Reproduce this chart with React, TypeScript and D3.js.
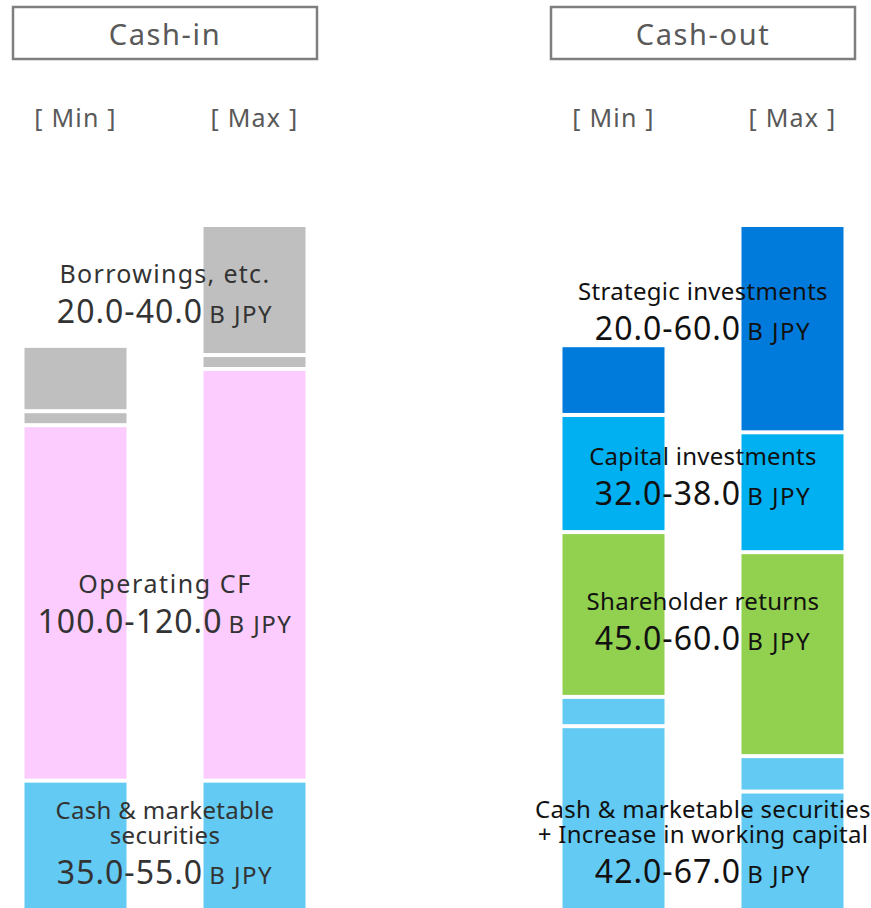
import React from "react";
import * as d3 from "d3";

// ---- data (schematic segment sizes as drawn, roughly in B JPY) ----
const groups = ["Cash-in", "Cash-out"];
const scenarios = ["Min", "Max"];

const cashInKeys = ["cash", "operatingCF", "borrowingsA", "borrowingsB"];
const cashInMin = [37.4, 104.4, 4.1, 18.6];
const cashInMax = [37.4, 120.9, 4.1, 37.6];

const cashOutKeys = ["cashWcA", "cashWcB", "shareholder", "capital", "strategic"];
const cashOutMin = [53.4, 8.6, 48.4, 34.4, 19.9];
const cashOutMax = [34.2, 10.4, 59.9, 35.2, 60.3];

const cashInLabels = [
  { lines: ["Borrowings, etc."], value: "20.0-40.0" },
  { lines: ["Operating CF"], value: "100.0-120.0" },
  { lines: ["Cash & marketable", "securities"], value: "35.0-55.0" },
];
const cashOutLabels = [
  { lines: ["Strategic investments"], value: "20.0-60.0" },
  { lines: ["Capital investments"], value: "32.0-38.0" },
  { lines: ["Shareholder returns"], value: "45.0-60.0" },
  { lines: ["Cash & marketable securities", "+ Increase in working capital"], value: "42.0-67.0" },
];
const unit = "B JPY";

// ---- styles ----
const colors: Record<string, string> = {
  cash: "#62CAF3",
  operatingCF: "#FCCCFE",
  borrowingsA: "#BFBFBF",
  borrowingsB: "#BFBFBF",
  cashWcA: "#62CAF3",
  cashWcB: "#62CAF3",
  shareholder: "#92D050",
  capital: "#00B0F0",
  strategic: "#007BDB",
};

const W = 871;
const H = 908;
const FONT = "'Noto Sans', sans-serif";

export default function App() {
  const y = d3.scaleLinear().domain([0, 200]).range([H, 227]);
  const gx = d3.scalePoint<string>().domain(groups).range([165, 703]);
  const sx = d3.scalePoint<string>().domain(scenarios).range([-89.5, 89.5]);
  const barW = 102;
  const gap = 2;

  const bars = [
    { group: "Cash-in", scen: "Min", keys: cashInKeys, vals: cashInMin },
    { group: "Cash-in", scen: "Max", keys: cashInKeys, vals: cashInMax },
    { group: "Cash-out", scen: "Min", keys: cashOutKeys, vals: cashOutMin },
    { group: "Cash-out", scen: "Max", keys: cashOutKeys, vals: cashOutMax },
  ];

  const rects: any[] = [];
  bars.forEach((b) => {
    const row: any = {};
    b.keys.forEach((k, i) => (row[k] = b.vals[i]));
    const series = d3.stack().keys(b.keys)([row]);
    const cx = (gx(b.group) as number) + (sx(b.scen) as number);
    series.forEach((s, i) => {
      const [y0, y1] = s[0];
      const top = y(y1) + (i === series.length - 1 ? 0 : gap);
      const bot = y(y0) - (i === 0 ? 0 : gap);
      rects.push({
        key: `${b.group}-${b.scen}-${s.key}`,
        x: cx - barW / 2,
        y: top,
        w: barW,
        h: Math.max(0, bot - top),
        fill: colors[s.key as string],
      });
    });
  });

  const inX = gx("Cash-in") as number;
  const outX = gx("Cash-out") as number;

  const inLabelY = [283, 593, 819];
  const outLabelY = [300, 465, 610, 818];
  const inTitleStyle = [
    { fs: 25, ls: 1.3 },
    { fs: 25, ls: 1.6 },
    { fs: 24, ls: 0.3 },
  ];

  const renderLabel = (
    l: any,
    cx: number,
    ty: number,
    color: string,
    k: string,
    fs = 24,
    ls = 0.3
  ) => (
    <g key={k}>
      {l.lines.map((t: string, j: number) => (
        <text
          key={j}
          x={cx}
          y={ty + j * 24.5}
          textAnchor="middle"
          fontSize={fs}
          letterSpacing={ls}
          fill={color}
          fontFamily={FONT}
        >
          {t}
        </text>
      ))}
      <text
        x={cx}
        y={ty + (l.lines.length - 1) * 24.5 + 40}
        textAnchor="middle"
        fill={color}
        fontFamily={FONT}
      >
        <tspan fontSize={32} letterSpacing={1}>
          {l.value}
        </tspan>
        <tspan fontSize={24} letterSpacing={1.5} dx={6}>
          {unit}
        </tspan>
      </text>
    </g>
  );

  return (
    <svg
      width={W}
      height={H}
      style={{ position: "absolute", left: 0, top: 0, background: "#fff" }}
    >
      {rects.map((r) => (
        <rect key={r.key} x={r.x} y={r.y} width={r.w} height={r.h} fill={r.fill} />
      ))}

      {groups.map((g) => (
        <g key={g}>
          <rect
            x={(gx(g) as number) - 152}
            y={7}
            width={304}
            height={52}
            fill="#fff"
            stroke="#7F7F7F"
            strokeWidth={2.5}
          />
          <text
            x={gx(g) as number}
            y={45}
            textAnchor="middle"
            fontSize={29}
            letterSpacing={1.6}
            fill="#595959"
            fontFamily={FONT}
          >
            {g}
          </text>
          {scenarios.map((s) => (
            <text
              key={s}
              x={(gx(g) as number) + (sx(s) as number)}
              y={127}
              textAnchor="middle"
              fontSize={25}
              letterSpacing={1.2}
              fill="#595959"
              fontFamily={FONT}
            >
              {`[ ${s} ]`}
            </text>
          ))}
        </g>
      ))}

      {cashInLabels.map((l, i) =>
        renderLabel(l, inX, inLabelY[i], "#333333", "in" + i, inTitleStyle[i].fs, inTitleStyle[i].ls)
      )}
      {cashOutLabels.map((l, i) => renderLabel(l, outX, outLabelY[i], "#111111", "out" + i))}
    </svg>
  );
}
